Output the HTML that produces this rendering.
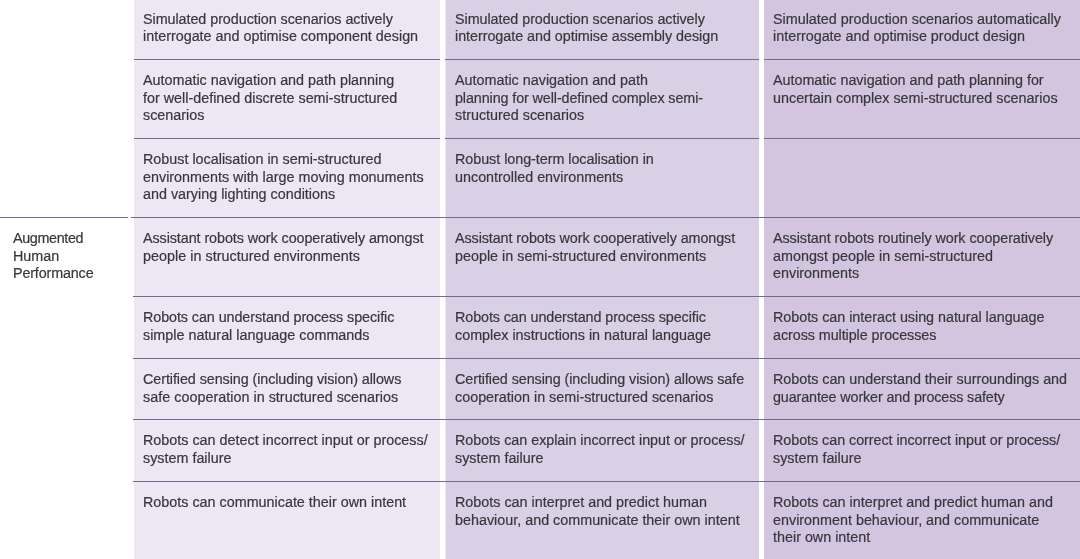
<!DOCTYPE html>
<html lang="en"><head><meta charset="utf-8"><title>Augmented Human Performance</title>
<style>
html,body{margin:0;padding:0;background:#fff;}
body{width:1080px;height:559px;position:relative;overflow:hidden;font-family:"Liberation Sans",sans-serif;font-size:14.35px;color:#38383c;-webkit-text-stroke:0.2px #38383c;}
.col{position:absolute;top:0;height:559px;}
.c1{left:134px;width:306px;background:#ece7f3;}
.c2{left:446px;width:313px;background:#d9d0e6;box-shadow:-1px 0 0 #ece8f3;}
.c3{left:764px;width:316px;background:#d3c5e0;}
.hl{position:absolute;height:1px;background:#6e6d90;}
.t{position:absolute;white-space:nowrap;line-height:18px;height:18px;}
</style></head><body>
<div class="col c1"></div><div class="col c2"></div><div class="col c3"></div>

<div class="hl" style="left:134px;width:306px;top:59px"></div>
<div class="hl" style="left:445px;width:314px;top:59px"></div>
<div class="hl" style="left:764px;width:316px;top:59px"></div>
<div class="hl" style="left:134px;width:306px;top:138px"></div>
<div class="hl" style="left:445px;width:314px;top:138px"></div>
<div class="hl" style="left:764px;width:316px;top:138px"></div>
<div class="hl" style="left:0;width:128px;top:217px"></div>
<div class="hl" style="left:131px;width:949px;top:217px"></div>
<div class="hl" style="left:133px;width:947px;top:296px"></div>
<div class="hl" style="left:133px;width:947px;top:358px"></div>
<div class="hl" style="left:133px;width:947px;top:419px"></div>
<div class="hl" style="left:133px;width:947px;top:481px"></div>
<div class="rowlabel">
<div class="t" id="L0" style="left:13px;top:229px;letter-spacing:-0.350px">Augmented</div>
<div class="t" id="L1" style="left:13px;top:247px">Human</div>
<div class="t" id="L2" style="left:13px;top:264px;letter-spacing:-0.150px">Performance</div>
</div>
<div class="row">
<div class="cell">
<div class="t" id="r0c0l0" style="left:143px;top:10px;letter-spacing:-0.055px">Simulated production scenarios actively</div>
<div class="t" id="r0c0l1" style="left:143px;top:27px">interrogate and optimise component design</div>
</div>
<div class="cell">
<div class="t" id="r0c1l0" style="left:455px;top:10px;letter-spacing:-0.055px">Simulated production scenarios actively</div>
<div class="t" id="r0c1l1" style="left:455px;top:27px;letter-spacing:-0.041px">interrogate and optimise assembly design</div>
</div>
<div class="cell">
<div class="t" id="r0c2l0" style="left:773px;top:10px">Simulated production scenarios automatically</div>
<div class="t" id="r0c2l1" style="left:773px;top:27px">interrogate and optimise product design</div>
</div>
</div>
<div class="row">
<div class="cell">
<div class="t" id="r1c0l0" style="left:143px;top:71px">Automatic navigation and path planning</div>
<div class="t" id="r1c0l1" style="left:143px;top:89px">for well-defined discrete semi-structured</div>
<div class="t" id="r1c0l2" style="left:143px;top:106px">scenarios</div>
</div>
<div class="cell">
<div class="t" id="r1c1l0" style="left:455px;top:71px">Automatic navigation and path</div>
<div class="t" id="r1c1l1" style="left:455px;top:89px;letter-spacing:-0.103px">planning for well-defined complex semi-</div>
<div class="t" id="r1c1l2" style="left:455px;top:106px">structured scenarios</div>
</div>
<div class="cell">
<div class="t" id="r1c2l0" style="left:773px;top:71px;letter-spacing:-0.032px">Automatic navigation and path planning for</div>
<div class="t" id="r1c2l1" style="left:773px;top:89px">uncertain complex semi-structured scenarios</div>
</div>
</div>
<div class="row">
<div class="cell">
<div class="t" id="r2c0l0" style="left:143px;top:150px">Robust localisation in semi-structured</div>
<div class="t" id="r2c0l1" style="left:143px;top:168px">environments with large moving monuments</div>
<div class="t" id="r2c0l2" style="left:143px;top:185px">and varying lighting conditions</div>
</div>
<div class="cell">
<div class="t" id="r2c1l0" style="left:455px;top:150px;letter-spacing:-0.042px">Robust long-term localisation in</div>
<div class="t" id="r2c1l1" style="left:455px;top:168px">uncontrolled environments</div>
</div>
<div class="cell">
</div>
</div>
<div class="row">
<div class="cell">
<div class="t" id="r3c0l0" style="left:143px;top:229px;letter-spacing:-0.079px">Assistant robots work cooperatively amongst</div>
<div class="t" id="r3c0l1" style="left:143px;top:247px;letter-spacing:0.025px">people in structured environments</div>
</div>
<div class="cell">
<div class="t" id="r3c1l0" style="left:455px;top:229px;letter-spacing:-0.088px">Assistant robots work cooperatively amongst</div>
<div class="t" id="r3c1l1" style="left:455px;top:247px">people in semi-structured environments</div>
</div>
<div class="cell">
<div class="t" id="r3c2l0" style="left:773px;top:229px;letter-spacing:-0.066px">Assistant robots routinely work cooperatively</div>
<div class="t" id="r3c2l1" style="left:773px;top:247px">amongst people in semi-structured</div>
<div class="t" id="r3c2l2" style="left:773px;top:264px">environments</div>
</div>
</div>
<div class="row">
<div class="cell">
<div class="t" id="r4c0l0" style="left:143px;top:308px;letter-spacing:-0.081px">Robots can understand process specific</div>
<div class="t" id="r4c0l1" style="left:143px;top:326px">simple natural language commands</div>
</div>
<div class="cell">
<div class="t" id="r4c1l0" style="left:455px;top:308px;letter-spacing:-0.092px">Robots can understand process specific</div>
<div class="t" id="r4c1l1" style="left:455px;top:326px">complex instructions in natural language</div>
</div>
<div class="cell">
<div class="t" id="r4c2l0" style="left:773px;top:308px;letter-spacing:-0.032px">Robots can interact using natural language</div>
<div class="t" id="r4c2l1" style="left:773px;top:326px;letter-spacing:-0.067px">across multiple processes</div>
</div>
</div>
<div class="row">
<div class="cell">
<div class="t" id="r5c0l0" style="left:143px;top:370px;letter-spacing:-0.076px">Certified sensing (including vision) allows</div>
<div class="t" id="r5c0l1" style="left:143px;top:388px;letter-spacing:0.023px">safe cooperation in structured scenarios</div>
</div>
<div class="cell">
<div class="t" id="r5c1l0" style="left:455px;top:370px;letter-spacing:-0.074px">Certified sensing (including vision) allows safe</div>
<div class="t" id="r5c1l1" style="left:455px;top:388px">cooperation in semi-structured scenarios</div>
</div>
<div class="cell">
<div class="t" id="r5c2l0" style="left:773px;top:370px;letter-spacing:-0.023px">Robots can understand their surroundings and</div>
<div class="t" id="r5c2l1" style="left:773px;top:388px;letter-spacing:-0.126px">guarantee worker and process safety</div>
</div>
</div>
<div class="row">
<div class="cell">
<div class="t" id="r6c0l0" style="left:143px;top:431px">Robots can detect incorrect input or process/</div>
<div class="t" id="r6c0l1" style="left:143px;top:449px">system failure</div>
</div>
<div class="cell">
<div class="t" id="r6c1l0" style="left:455px;top:431px;letter-spacing:-0.033px">Robots can explain incorrect input or process/</div>
<div class="t" id="r6c1l1" style="left:455px;top:449px">system failure</div>
</div>
<div class="cell">
<div class="t" id="r6c2l0" style="left:773px;top:431px;letter-spacing:-0.049px">Robots can correct incorrect input or process/</div>
<div class="t" id="r6c2l1" style="left:773px;top:449px">system failure</div>
</div>
</div>
<div class="row">
<div class="cell">
<div class="t" id="r7c0l0" style="left:143px;top:493px">Robots can communicate their own intent</div>
</div>
<div class="cell">
<div class="t" id="r7c1l0" style="left:455px;top:493px">Robots can interpret and predict human</div>
<div class="t" id="r7c1l1" style="left:455px;top:511px">behaviour, and communicate their own intent</div>
</div>
<div class="cell">
<div class="t" id="r7c2l0" style="left:773px;top:493px">Robots can interpret and predict human and</div>
<div class="t" id="r7c2l1" style="left:773px;top:511px">environment behaviour, and communicate</div>
<div class="t" id="r7c2l2" style="left:773px;top:528px">their own intent</div>
</div>
</div>
</body></html>
